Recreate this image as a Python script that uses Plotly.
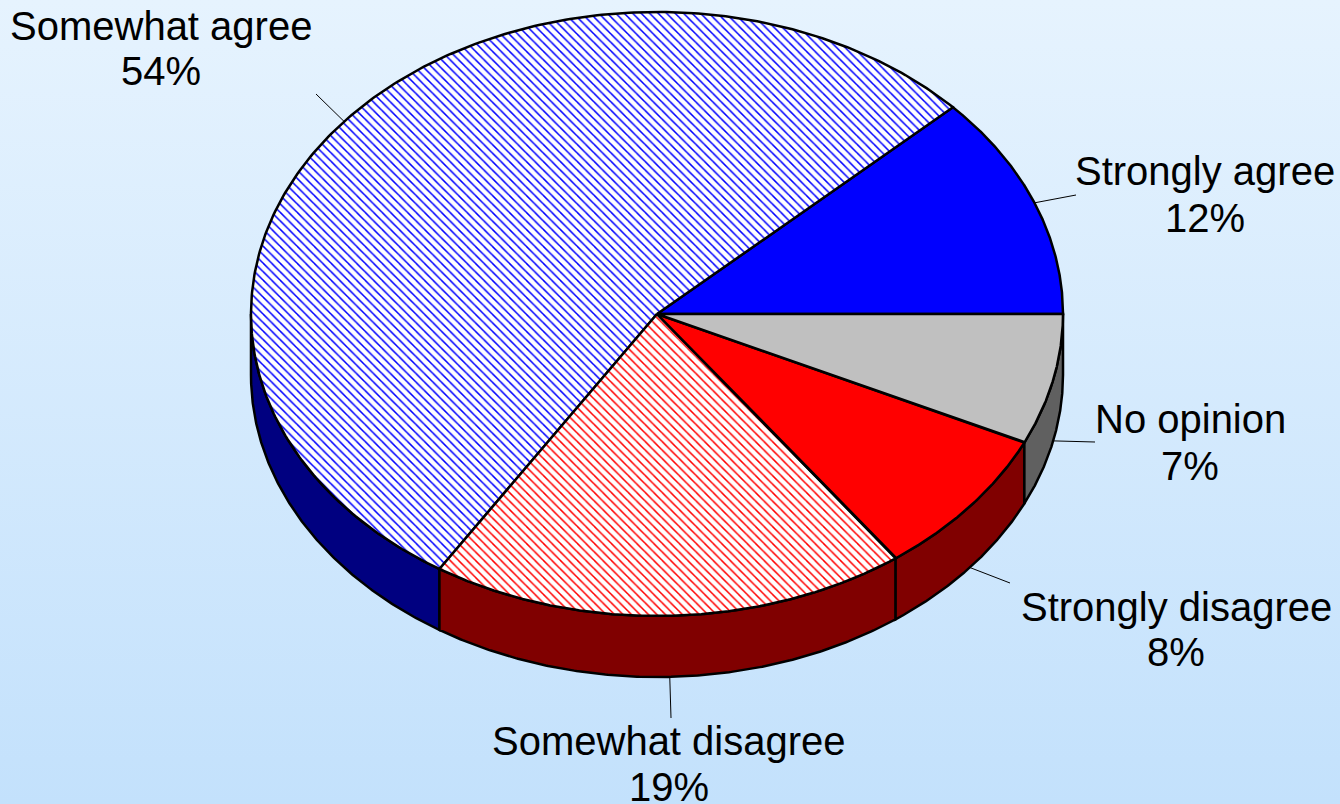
import numpy as np
import plotly.graph_objects as go

# ---- data ----
categories = ["Strongly agree", "Somewhat agree", "Somewhat disagree", "Strongly disagree", "No opinion"]
values = [12, 54, 19, 8, 7]

# ---- styles ----
top_colors = ["#0000FF", "#FFFFFF", "#FFFFFF", "#FF0000", "#C0C0C0"]
hatch_colors = [None, "#0000FF", "#FF0000", None, None]
side_colors = ["#000080", "#000080", "#800000", "#800000", "#606060"]
BG_TOP, BG_BOTTOM = "#E6F3FE", "#C3E1FC"
FONT = "Liberation Sans, Arial, sans-serif"
FONT_SIZE = 40

# ---- layout geometry ----
W, H = 1340, 804
CX, CY, RX, RY, DEPTH = 657, 314, 406, 302, 61
label_pos = [(1205, 171, 218), (161, 26, 71), (669, 741, 787), (1176, 607, 652), (1190, 419, 466)]
leader_end = [(1076, 195), (316, 94), (671, 718), (1010, 583), (1095, 442)]


def ex(a):
    return CX + RX * np.cos(a)


def ey(a):
    return CY - RY * np.sin(a)


fig = go.Figure()

# background gradient
fig.add_trace(go.Scatter(
    x=[0, W, W, 0, 0], y=[0, 0, H, H, 0], mode="lines", line=dict(width=0),
    fill="toself",
    fillgradient=dict(type="vertical", colorscale=[[0, BG_TOP], [1, BG_BOTTOM]], start=0, stop=H),
    hoverinfo="skip", showlegend=False))

total = float(sum(values))
bounds = []
acc = 0.0
for v in values:
    a1 = 2 * np.pi * acc / total
    acc += v
    a2 = 2 * np.pi * acc / total
    bounds.append((a1, a2))

# side walls (front half only)
for (a1, a2), sc in zip(bounds, side_colors):
    lo, hi = max(a1, np.pi), min(a2, 2 * np.pi)
    if hi <= lo:
        continue
    t = np.linspace(lo, hi, 200)
    xs = np.concatenate([ex(t), ex(t[::-1]), [ex(lo)]])
    ys = np.concatenate([ey(t), ey(t[::-1]) + DEPTH, [ey(lo)]])
    fig.add_trace(go.Scatter(x=xs, y=ys, mode="lines", fill="toself", fillcolor=sc,
                             line=dict(color="black", width=2.5), hoverinfo="skip", showlegend=False))

# top faces
for (a1, a2), tc, hc in zip(bounds, top_colors, hatch_colors):
    t = np.linspace(a1, a2, 300)
    xs = np.concatenate([[CX], ex(t), [CX]])
    ys = np.concatenate([[CY], ey(t), [CY]])
    kw = {}
    if hc:
        kw["fillpattern"] = dict(shape="\\", fgcolor=hc, bgcolor="white", size=6,
                                 solidity=0.25, fillmode="replace")
    fig.add_trace(go.Scatter(x=xs, y=ys, mode="lines", fill="toself", fillcolor=tc,
                             line=dict(color="black", width=2.5), hoverinfo="skip",
                             showlegend=False, **kw))

# leader lines and labels
for (a1, a2), name, v, (lx, ly1, ly2), (ex_, ey_) in zip(bounds, categories, values, label_pos, leader_end):
    m = (a1 + a2) / 2
    sx, sy = ex(m), ey(m)
    if np.sin(m) < 0:
        sy += DEPTH
    fig.add_trace(go.Scatter(x=[sx, ex_], y=[sy, ey_], mode="lines",
                             line=dict(color="black", width=1), hoverinfo="skip", showlegend=False))
    fig.add_annotation(x=lx, y=ly1, text=name, showarrow=False, xanchor="center", yanchor="middle",
                       font=dict(family=FONT, size=FONT_SIZE, color="black"))
    fig.add_annotation(x=lx, y=ly2, text=f"{v}%", showarrow=False, xanchor="center", yanchor="middle",
                       font=dict(family=FONT, size=FONT_SIZE, color="black"))

fig.update_layout(
    width=W, height=H, autosize=False,
    margin=dict(l=0, r=0, t=0, b=0, pad=0),
    paper_bgcolor=BG_BOTTOM, plot_bgcolor="rgba(0,0,0,0)",
    xaxis=dict(range=[0, W], visible=False, fixedrange=True),
    yaxis=dict(range=[H, 0], visible=False, fixedrange=True),
    showlegend=False,
)

fig.write_html("out.html", config={"displayModeBar": False},
               post_script="document.body.style.margin='0';document.body.style.overflow='hidden';")
